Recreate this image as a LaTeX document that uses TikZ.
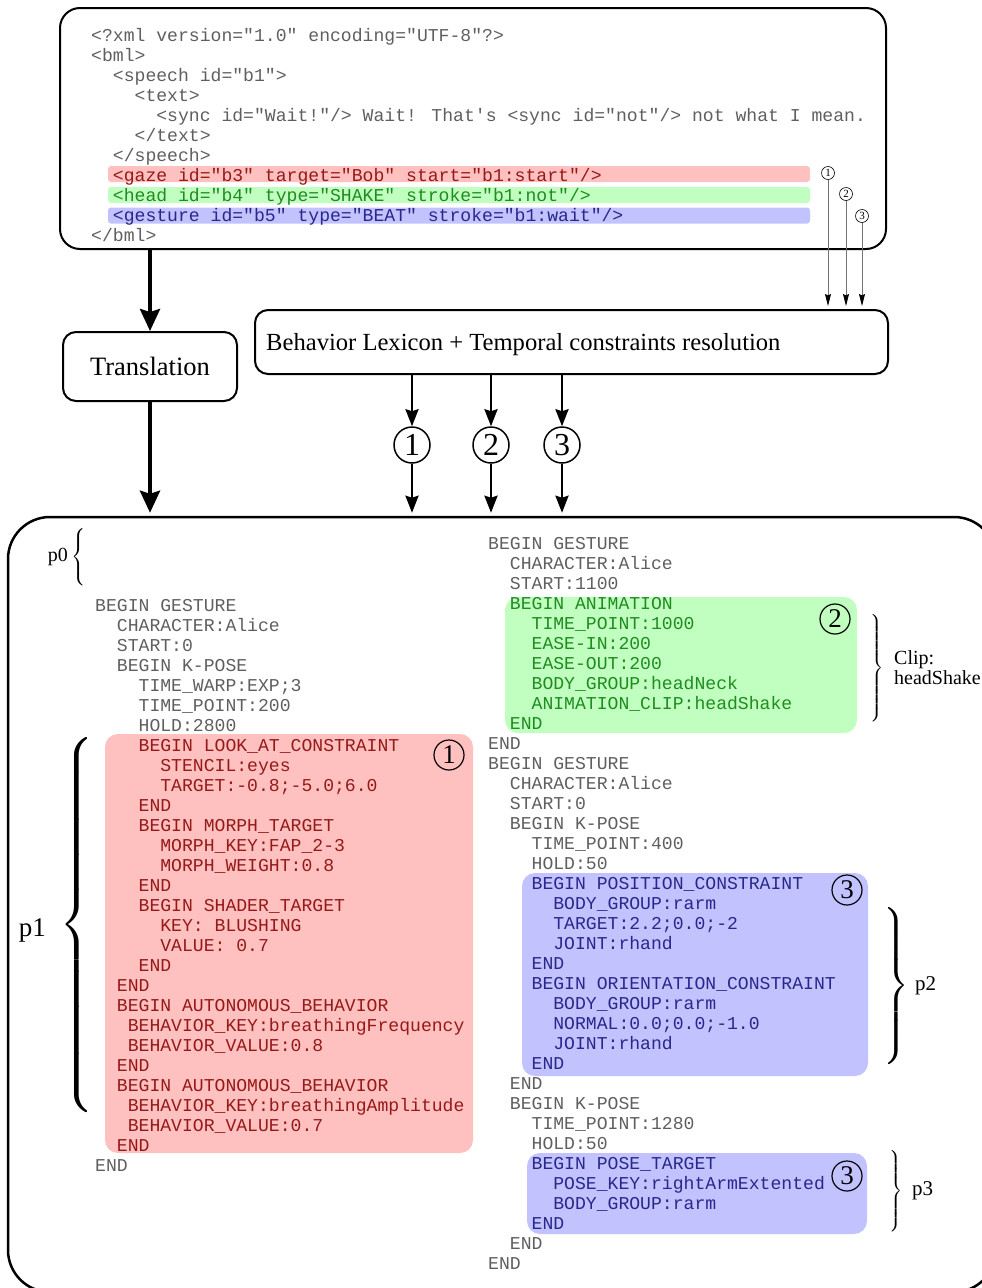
\documentclass[tikz,border=0pt]{standalone}
\usepackage{fontspec}
\usepackage{graphicx}
\setmainfont{Liberation Serif}
\newfontfamily\codefont{Liberation Mono}
\usetikzlibrary{arrows.meta}

\delimiterfactor=1000
\delimitershortfall=0pt
\nulldelimiterspace=0pt

\definecolor{hlred}{RGB}{255,192,192}
\definecolor{hlgreen}{RGB}{192,255,192}
\definecolor{hlblue}{RGB}{194,194,255}
\definecolor{txred}{RGB}{150,25,25}
\definecolor{txgreen}{RGB}{30,140,30}
\definecolor{txblue}{RGB}{40,40,140}
\definecolor{txgray}{RGB}{95,95,95}

% one line of code: colour, indent (characters), row, text
\newcounter{ln}
\newcommand\cbx{0}
\newcommand\cby{0}
\newcommand\origin[2]{\renewcommand\cbx{#1}\renewcommand\cby{#2}}
\newcommand\cl[4]{\stepcounter{ln}\node[code,text=#1] (ln\arabic{ln}) at ({\cbx+#2*10.86},{\cby+#3*20}) {#4};}

% extensible braces, drawn at 10pt and magnified: name, tip, magnification, unscaled height
\newcommand\bracel[4]{\node[inner sep=0pt,anchor=west] (#1) at (#2) {\scalebox{#3}{$\left\{\vcenter{\hrule height #4pt width 0pt}\right.$}};}
\newcommand\bracer[4]{\node[inner sep=0pt,anchor=east] (#1) at (#2) {\scalebox{#3}{$\left.\vcenter{\hrule height #4pt width 0pt}\right\}$}};}

\tikzset{
  code/.style={font=\codefont\fontsize{18.1}{20}\selectfont, anchor=base west, inner sep=0pt, text height=12pt, text depth=3pt},
  boxframe/.style={draw, line width=2pt},
  hl/.style={rounded corners=13pt, inner sep=0pt},
  numc/.style={circle, draw, inner sep=0pt},
  bigarrow/.style={line width=4pt, -{Stealth[length=22pt,width=20pt,inset=3pt]}},
  midarrow/.style={line width=2.4pt, -{Stealth[length=17pt,width=13pt,inset=2pt]}},
  thinarrow/.style={line width=0.8pt, draw=black!55, -{Stealth[length=12pt,width=6pt,inset=1.5pt,color=black]}},
}

\begin{document}
\begin{tikzpicture}[x=1pt,y=-1pt]
\useasboundingbox (0,0) rectangle (982,1288);
\clip (0,0) rectangle (982,1288);

% frames
\node[draw, line width=2.5pt, rounded corners=42pt, minimum width=988pt, minimum height=775pt] (main) at (502,904.5) {};
\node[boxframe, rounded corners=20pt, minimum width=826pt, minimum height=241pt] (xml) at (473,128.5) {};
\node[boxframe, rounded corners=13pt, minimum width=174pt, minimum height=69pt,
      font=\fontsize{26.5}{30}\selectfont] (trans) at (150,366.5) {Translation};
\node[boxframe, rounded corners=13pt, minimum width=633pt, minimum height=64pt] (lex) at (571.5,342) {};
\node[anchor=west, inner sep=0pt, font=\fontsize{24.6}{28}\selectfont] (lextext) at (266,345) {Behavior Lexicon + Temporal constraints resolution};

% highlighted regions
\node[hl, rounded corners=3pt, fill=hlred, minimum width=702pt, minimum height=16pt] (hx1) at (459,174) {};
\node[hl, rounded corners=3pt, fill=hlgreen, minimum width=702pt, minimum height=16pt] (hx2) at (459,195) {};
\node[hl, rounded corners=3pt, fill=hlblue, minimum width=702pt, minimum height=16pt] (hx3) at (459,215.5) {};
\node[hl, fill=hlred, minimum width=368pt, minimum height=419pt] (hr) at (289,943.5) {};
\node[hl, fill=hlgreen, minimum width=352pt, minimum height=136pt] (hg) at (681,665) {};
\node[hl, fill=hlblue, minimum width=346pt, minimum height=203pt] (hb1) at (695,974.5) {};
\node[hl, fill=hlblue, minimum width=340pt, minimum height=81pt] (hb2) at (697,1193.5) {};

% BML document
\origin{91}{41}
\cl{txgray}{0}{0}{<?xml version="1.0" encoding="UTF-8"?>}
\cl{txgray}{0}{1}{<bml>}
\cl{txgray}{2}{2}{<speech id="b1">}
\cl{txgray}{4}{3}{<text>}
\cl{txgray}{6}{4}{<sync id="Wait!"/> Wait! That\textquotesingle s <sync id="not"/> not what I mean.}
\cl{txgray}{4}{5}{</text>}
\cl{txgray}{2}{6}{</speech>}
\cl{txred}{2}{7}{<gaze id="b3" target="Bob" start="b1:start"/>}
\cl{txgreen}{2}{8}{<head id="b4" type="SHAKE" stroke="b1:not"/>}
\cl{txblue}{2}{9}{<gesture id="b5" type="BEAT" stroke="b1:wait"/>}
\cl{txgray}{0}{10}{</bml>}

% first gesture
\origin{95}{611}
\cl{txgray}{0}{0}{BEGIN GESTURE}
\cl{txgray}{2}{1}{CHARACTER:Alice}
\cl{txgray}{2}{2}{START:0}
\cl{txgray}{2}{3}{BEGIN K-POSE}
\cl{txgray}{4}{4}{TIME\_WARP:EXP;3}
\cl{txgray}{4}{5}{TIME\_POINT:200}
\cl{txgray}{4}{6}{HOLD:2800}
\cl{txred}{4}{7}{BEGIN LOOK\_AT\_CONSTRAINT}
\cl{txred}{6}{8}{STENCIL:eyes}
\cl{txred}{6}{9}{TARGET:-0.8;-5.0;6.0}
\cl{txred}{4}{10}{END}
\cl{txred}{4}{11}{BEGIN MORPH\_TARGET}
\cl{txred}{6}{12}{MORPH\_KEY:FAP\_2-3}
\cl{txred}{6}{13}{MORPH\_WEIGHT:0.8}
\cl{txred}{4}{14}{END}
\cl{txred}{4}{15}{BEGIN SHADER\_TARGET}
\cl{txred}{6}{16}{KEY: BLUSHING}
\cl{txred}{6}{17}{VALUE: 0.7}
\cl{txred}{4}{18}{END}
\cl{txred}{2}{19}{END}
\cl{txred}{2}{20}{BEGIN AUTONOMOUS\_BEHAVIOR}
\cl{txred}{3}{21}{BEHAVIOR\_KEY:breathingFrequency}
\cl{txred}{3}{22}{BEHAVIOR\_VALUE:0.8}
\cl{txred}{2}{23}{END}
\cl{txred}{2}{24}{BEGIN AUTONOMOUS\_BEHAVIOR}
\cl{txred}{3}{25}{BEHAVIOR\_KEY:breathingAmplitude}
\cl{txred}{3}{26}{BEHAVIOR\_VALUE:0.7}
\cl{txred}{2}{27}{END}
\cl{txgray}{0}{28}{END}

% second and third gestures
\origin{488}{549}
\cl{txgray}{0}{0}{BEGIN GESTURE}
\cl{txgray}{2}{1}{CHARACTER:Alice}
\cl{txgray}{2}{2}{START:1100}
\cl{txgreen}{2}{3}{BEGIN ANIMATION}
\cl{txgreen}{4}{4}{TIME\_POINT:1000}
\cl{txgreen}{4}{5}{EASE-IN:200}
\cl{txgreen}{4}{6}{EASE-OUT:200}
\cl{txgreen}{4}{7}{BODY\_GROUP:headNeck}
\cl{txgreen}{4}{8}{ANIMATION\_CLIP:headShake}
\cl{txgreen}{2}{9}{END}
\cl{txgray}{0}{10}{END}
\cl{txgray}{0}{11}{BEGIN GESTURE}
\cl{txgray}{2}{12}{CHARACTER:Alice}
\cl{txgray}{2}{13}{START:0}
\cl{txgray}{2}{14}{BEGIN K-POSE}
\cl{txgray}{4}{15}{TIME\_POINT:400}
\cl{txgray}{4}{16}{HOLD:50}
\cl{txblue}{4}{17}{BEGIN POSITION\_CONSTRAINT}
\cl{txblue}{6}{18}{BODY\_GROUP:rarm}
\cl{txblue}{6}{19}{TARGET:2.2;0.0;-2}
\cl{txblue}{6}{20}{JOINT:rhand}
\cl{txblue}{4}{21}{END}
\cl{txblue}{4}{22}{BEGIN ORIENTATION\_CONSTRAINT}
\cl{txblue}{6}{23}{BODY\_GROUP:rarm}
\cl{txblue}{6}{24}{NORMAL:0.0;0.0;-1.0}
\cl{txblue}{6}{25}{JOINT:rhand}
\cl{txblue}{4}{26}{END}
\cl{txgray}{2}{27}{END}
\cl{txgray}{2}{28}{BEGIN K-POSE}
\cl{txgray}{4}{29}{TIME\_POINT:1280}
\cl{txgray}{4}{30}{HOLD:50}
\cl{txblue}{4}{31}{BEGIN POSE\_TARGET}
\cl{txblue}{6}{32}{POSE\_KEY:rightArmExtented}
\cl{txblue}{6}{33}{BODY\_GROUP:rarm}
\cl{txblue}{4}{34}{END}
\cl{txgray}{2}{35}{END}
\cl{txgray}{0}{36}{END}

% numbered markers
\node[numc, minimum size=13pt, line width=0.6pt, font=\fontsize{11}{11}\selectfont] (s1) at (828,173) {1};
\node[numc, minimum size=13pt, line width=0.6pt, font=\fontsize{11}{11}\selectfont] (s2) at (846,194) {2};
\node[numc, minimum size=13pt, line width=0.6pt, font=\fontsize{11}{11}\selectfont] (s3) at (862,216) {3};
\node[numc, minimum size=36pt, line width=1.5pt, font=\fontsize{32}{32}\selectfont] (c1) at (412,445) {1};
\node[numc, minimum size=36pt, line width=1.5pt, font=\fontsize{32}{32}\selectfont] (c2) at (491,445) {2};
\node[numc, minimum size=36pt, line width=1.5pt, font=\fontsize{32}{32}\selectfont] (c3) at (562,445) {3};
\node[numc, minimum size=30pt, line width=1.2pt, font=\fontsize{27}{27}\selectfont] (n1) at (449,755) {1};
\node[numc, minimum size=30pt, line width=1.2pt, font=\fontsize{27}{27}\selectfont] (n2) at (835,619) {2};
\node[numc, minimum size=30pt, line width=1.2pt, font=\fontsize{27}{27}\selectfont] (n3) at (847,890) {3};
\node[numc, minimum size=30pt, line width=1.2pt, font=\fontsize{27}{27}\selectfont] (n4) at (847,1176) {3};

% braces and their labels
\bracel{bp0}{71,557}{1.6}{31}
\node[anchor=east, inner sep=0pt, font=\fontsize{20}{20}\selectfont] (lp0) at ([xshift=-3pt]bp0.west) {p0};
\bracel{bp1}{59,925}{3.9}{95}
\node[anchor=east, inner sep=0pt, font=\fontsize{27}{27}\selectfont] (lp1) at (46,930) {p1};
\bracer{bclip}{884,668}{1.5}{69}
\node[anchor=west, inner sep=0pt, align=left, font=\fontsize{20}{20}\selectfont] (lclip) at ([xshift=10pt]bclip.east) {Clip:\\headShake};
\bracer{bp2}{909,986}{2.9}{52}
\node[anchor=west, inner sep=0pt, font=\fontsize{21}{21}\selectfont] (lp2) at ([xshift=6pt]bp2.east) {p2};
\bracer{bp3}{903,1191}{1.5}{52}
\node[anchor=west, inner sep=0pt, font=\fontsize{21}{21}\selectfont] (lp3) at ([xshift=9pt]bp3.east) {p3};

% connectors
\draw[bigarrow] (xml.south -| trans.north) -- (trans.north);
\draw[bigarrow, shorten >=3pt] (trans.south) -- (trans.south |- main.north);
\foreach \c in {c1,c2,c3} {
  \draw[midarrow] (lex.south -| \c.north) -- (\c.north);
  \draw[midarrow, shorten >=3pt] (\c.south) -- (\c.south |- main.north);
}
\foreach \s in {s1,s2,s3} {
  \draw[thinarrow, shorten >=3pt] (\s.south) -- (\s.south |- lex.north);
}
\end{tikzpicture}
\end{document}
